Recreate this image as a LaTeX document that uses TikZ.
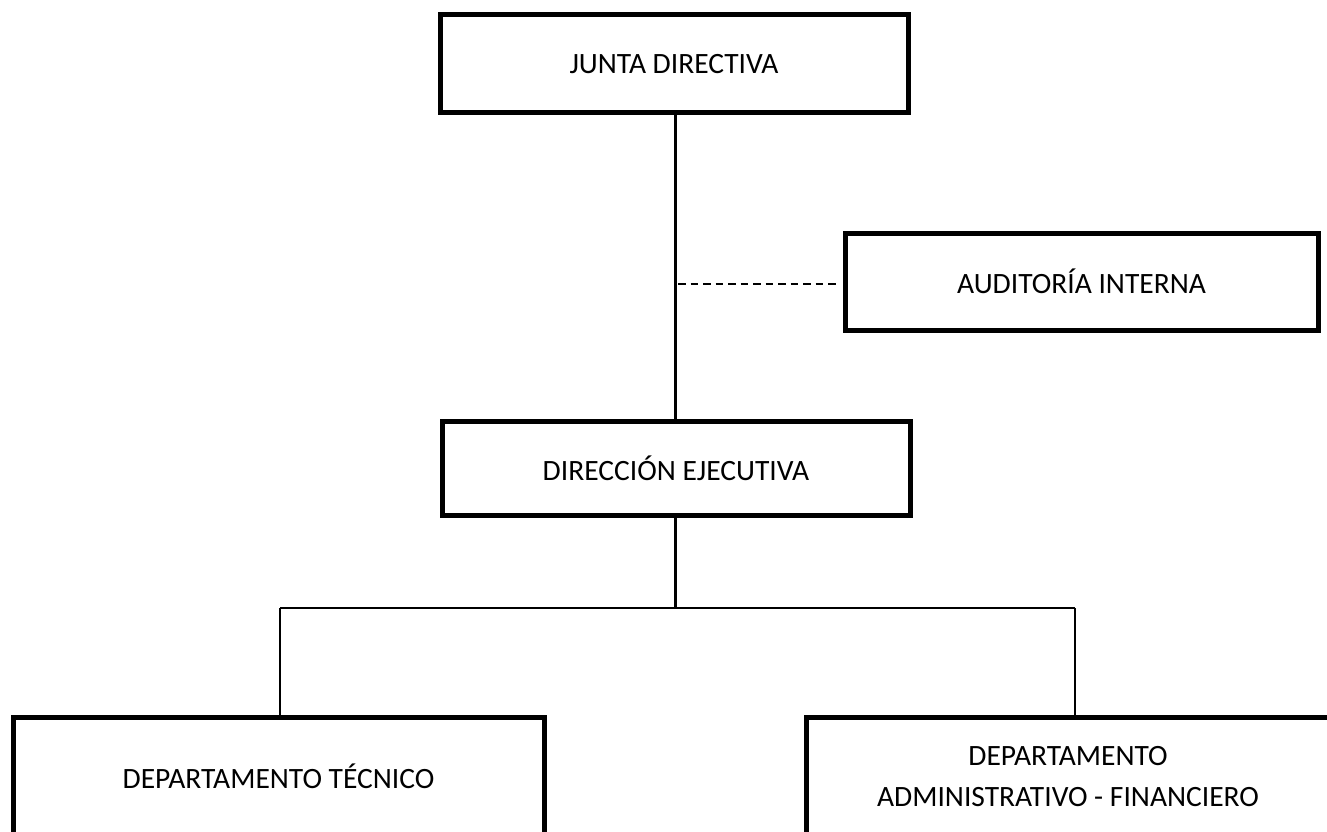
\documentclass[tikz,border=0pt]{standalone}
\usepackage{fontspec}
\setmainfont{Carlito}
\begin{document}
\begin{tikzpicture}[x=1pt,y=-1pt,
  unitbox/.style={draw=black,line width=5pt,rectangle,inner sep=0pt,align=center,
    font=\fontsize{29.5}{41}\selectfont},
  trunkline/.style={line width=3pt},
  thinline/.style={line width=2pt},
  dashline/.style={line width=2.2pt,dash pattern=on 7.5pt off 5pt}]
\useasboundingbox (0,0) rectangle (1327,832);
\node[unitbox,minimum width=468pt,minimum height=98pt] (junta) at (674,64) {JUNTA DIRECTIVA};
\node[unitbox,minimum width=473pt,minimum height=97pt] (aud) at (1081.5,281.5) {AUDITORÍA INTERNA};
\node[unitbox,minimum width=468pt,minimum height=94pt] (dir) at (676,468) {DIRECCIÓN EJECUTIVA};
\node[unitbox,minimum width=531pt,minimum height=119pt] (tec) at (278.5,776.5) {DEPARTAMENTO TÉCNICO};
\node[unitbox,minimum width=524pt,minimum height=119pt] (adm) at (1068,776.5) {DEPARTAMENTO\\ADMINISTRATIVO - FINANCIERO};
\coordinate (trunk) at (675,0);
\coordinate (busL) at (280,608);
\coordinate (busR) at (1075,608);
\coordinate (busM) at (675,608);
\coordinate (dashstart) at (678,284);
\coordinate (dashend) at (839,284);
\draw[trunkline] (junta.south -| trunk) -- (dir.north -| trunk);
\draw[dashline] (dashstart) -- (dashend);
\draw[trunkline] (dir.south -| trunk) -- (busM);
\draw[thinline] (busL) -- (busR);
\draw[thinline] (busL) -- (busL |- tec.north);
\draw[thinline] (busR) -- (busR |- adm.north);
\end{tikzpicture}
\end{document}
